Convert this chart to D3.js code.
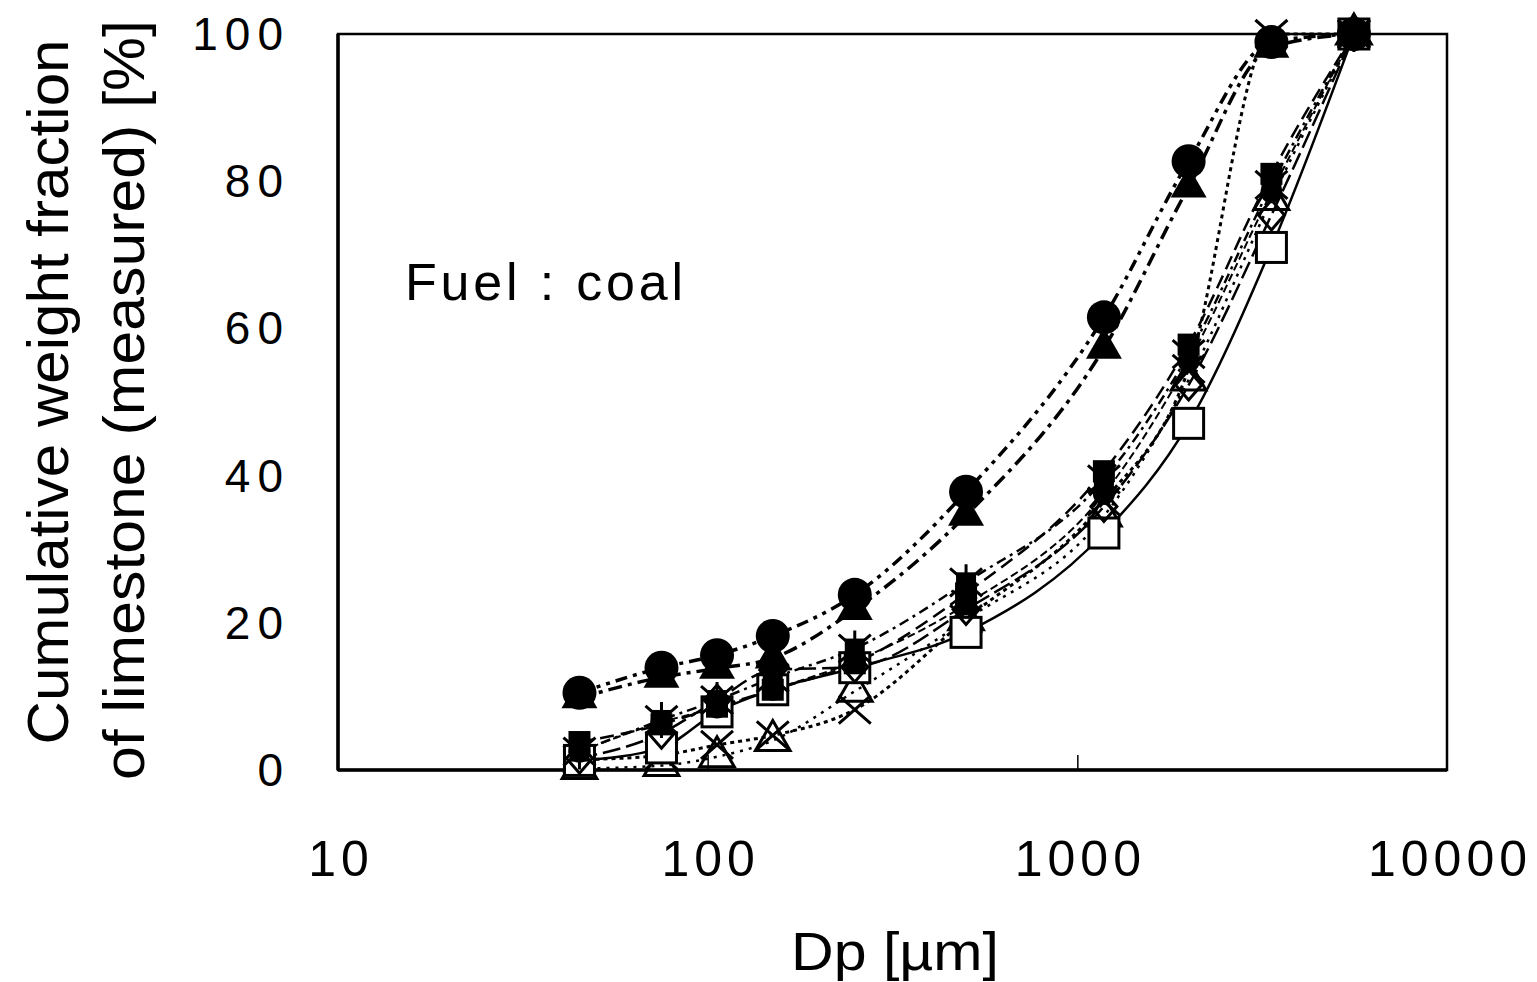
<!DOCTYPE html>
<html>
<head>
<meta charset="utf-8">
<script src="https://cdn.jsdelivr.net/npm/d3@7/dist/d3.min.js"></script>
<style>
  html, body { margin: 0; padding: 0; background: #fff; }
  svg { display: block; font-family: "Liberation Sans", Arial, sans-serif; }
</style>
</head>
<body>
<div id="chart"></div>
<script>
const dp = [45, 75, 106, 150, 250, 500, 1180, 2000, 3350, 5600];

const circleFilled   = [10.5, 13.9, 15.6, 18.2, 23.8, 37.8, 61.5, 82.7, 98.9, 100];
const triangleFilled = [9.8, 12.6, 13.8, 15.2, 21.8, 34.6, 57.3, 79.2, 98.2, 100];
const squareFilled   = [3.8, 6.2, 8.6, 10.9, 14.5, 24.0, 40.6, 57.8, 81.0, 100];
const starPts        = [2.5, 6.8, 9.5, 12.5, 16.5, 25.5, 39.5, 56.5, 79.5, 100];
const diamondOpen    = [1.6, 5.0, 9.5, 13.6, 14.0, 21.8, 35.8, 52.3, 75.4, 100];
const squareOpen     = [1.3, 3.0, 7.9, 10.9, 13.9, 18.7, 32.2, 47.1, 71.0, 100];
const crossPts       = [1.4, 2.0, 3.4, 4.7, 8.2, 20.5, 36.5, 54.5, 100, 100];
const triangleOpen   = [0.2, 0.6, 1.8, 4.0, 10.7, 20.4, 34.5, 53.0, 77.5, 100];
const circleSmall    = [2.5, 6.5, 8.5, 10.9, 14.8, 22.5, 37.5, 55.5, 78.5, 100];

const xTicks = [10, 100, 1000, 10000];
const yTicks = [0, 20, 40, 60, 80, 100];

const series = [
  { values: triangleOpen,   marker: 'triangleOpen',   dash: '3,6',           width: 2.5 },
  { values: crossPts,       marker: 'cross',          dash: '4,4',           width: 3 },
  { values: squareOpen,     marker: 'squareOpen',     dash: null,            width: 2.5 },
  { values: diamondOpen,    marker: 'diamondOpen',    dash: '18,6',          width: 2.5 },
  { values: circleSmall,    marker: 'circleSmall',    dash: '8,4',           width: 2 },
  { values: starPts,        marker: 'star',           dash: '10,5,3,5',      width: 2.5 },
  { values: squareFilled,   marker: 'squareFilled',   dash: '14,7',          width: 2.5 },
  { values: triangleFilled, marker: 'triangleFilled', dash: '14,6,4,6',      width: 3.5 },
  { values: circleFilled,   marker: 'circleFilled',   dash: '12,6,4,6,4,6',  width: 3.5 }
];

const W = 1537, H = 982;
const M = { left: 338, right: 1447, top: 34, bottom: 770 };

const svg = d3.select('#chart').append('svg')
  .attr('width', W).attr('height', H);

const x = d3.scaleLog().domain([10, 10000]).range([M.left, M.right]);
const y = d3.scaleLinear().domain([0, 100]).range([M.bottom, M.top]);

// frame
svg.append('rect')
  .attr('x', M.left).attr('y', M.top)
  .attr('width', M.right - M.left).attr('height', M.bottom - M.top)
  .attr('fill', 'none').attr('stroke', '#000').attr('stroke-width', 2.5);
svg.append('line')
  .attr('x1', M.left).attr('x2', M.right)
  .attr('y1', M.bottom).attr('y2', M.bottom)
  .attr('stroke', '#000').attr('stroke-width', 3.5);
svg.append('line')
  .attr('x1', M.left).attr('x2', M.left)
  .attr('y1', M.top).attr('y2', M.bottom)
  .attr('stroke', '#000').attr('stroke-width', 3.5);

// inner ticks on x axis
svg.append('g')
  .attr('transform', `translate(0,${M.bottom})`)
  .call(d3.axisBottom(x).tickValues(xTicks.slice(1, -1)).tickSize(-15).tickFormat(''))
  .call(g => g.select('.domain').remove())
  .call(g => g.selectAll('line').attr('stroke-width', 1.5));

// tick labels
svg.append('g').selectAll('text')
  .data(xTicks).enter().append('text')
  .attr('x', d => x(d) + 3)
  .attr('y', 876)
  .attr('text-anchor', 'middle')
  .style('font-size', '50px')
  .style('letter-spacing', '5px')
  .text(d => d);

svg.append('g').selectAll('text')
  .data(yTicks).enter().append('text')
  .attr('x', 290)
  .attr('y', d => y(d) + 16)
  .attr('text-anchor', 'end')
  .style('font-size', '46px')
  .style('letter-spacing', '7px')
  .text(d => d);

// axis titles
svg.append('text')
  .attr('x', 895).attr('y', 970)
  .attr('text-anchor', 'middle')
  .style('font-size', '54px')
  .attr('textLength', 208).attr('lengthAdjust', 'spacingAndGlyphs')
  .text('Dp [µm]');

svg.append('text')
  .attr('transform', 'translate(68,392) rotate(-90)')
  .attr('text-anchor', 'middle')
  .style('font-size', '58px')
  .attr('textLength', 705).attr('lengthAdjust', 'spacingAndGlyphs')
  .text('Cumulative weight fraction');

svg.append('text')
  .attr('transform', 'translate(144,400) rotate(-90)')
  .attr('text-anchor', 'middle')
  .style('font-size', '58px')
  .attr('textLength', 760).attr('lengthAdjust', 'spacingAndGlyphs')
  .text('of limestone (measured) [%]');

svg.append('text')
  .attr('x', 405).attr('y', 300)
  .style('font-size', '52px')
  .attr('textLength', 278).attr('lengthAdjust', 'spacing')
  .text('Fuel : coal');

// lines
const line = d3.line()
  .x((d, i) => x(dp[i]))
  .y(d => y(d))
  .curve(d3.curveMonotoneX);

const plot = svg.append('g');

series.forEach(s => {
  plot.append('path')
    .datum(s.values)
    .attr('d', line)
    .attr('fill', 'none')
    .attr('stroke', '#000')
    .attr('stroke-width', s.width)
    .attr('stroke-dasharray', s.dash);
});

// markers
function drawMarker(g, type) {
  const sw = 3;
  switch (type) {
    case 'circleFilled':
      g.append('circle').attr('r', 17).attr('fill', '#000');
      break;
    case 'circleSmall':
      g.append('circle').attr('r', 11).attr('fill', '#000');
      break;
    case 'triangleFilled':
      g.append('path').attr('d', d3.symbol(d3.symbolTriangle, 560)()).attr('fill', '#000');
      break;
    case 'triangleOpen':
      g.append('path').attr('d', d3.symbol(d3.symbolTriangle, 520)())
        .attr('fill', 'none').attr('stroke', '#000').attr('stroke-width', sw);
      break;
    case 'squareFilled':
      g.append('rect').attr('x', -11).attr('y', -11).attr('width', 22).attr('height', 22).attr('fill', '#000');
      break;
    case 'squareOpen':
      g.append('rect').attr('x', -15).attr('y', -15).attr('width', 30).attr('height', 30)
        .attr('fill', '#fff').attr('stroke', '#000').attr('stroke-width', sw);
      break;
    case 'diamondOpen':
      g.append('path').attr('d', 'M0,-15L13,0L0,15L-13,0Z')
        .attr('fill', 'none').attr('stroke', '#000').attr('stroke-width', sw);
      break;
    case 'cross':
      g.append('path').attr('d', 'M-16,-14L16,14M-16,14L16,-14')
        .attr('stroke', '#000').attr('stroke-width', sw);
      break;
    case 'star':
      g.append('path').attr('d', 'M-16,-14L16,14M-16,14L16,-14M0,-18L0,18')
        .attr('stroke', '#000').attr('stroke-width', sw);
      g.append('rect').attr('x', -10).attr('y', -10).attr('width', 20).attr('height', 20).attr('fill', '#000');
      break;
  }
}

series.forEach(s => {
  s.values.forEach((v, i) => {
    const g = plot.append('g').attr('transform', `translate(${x(dp[i])},${y(v)})`);
    drawMarker(g, s.marker);
  });
});
</script>
</body>
</html>
